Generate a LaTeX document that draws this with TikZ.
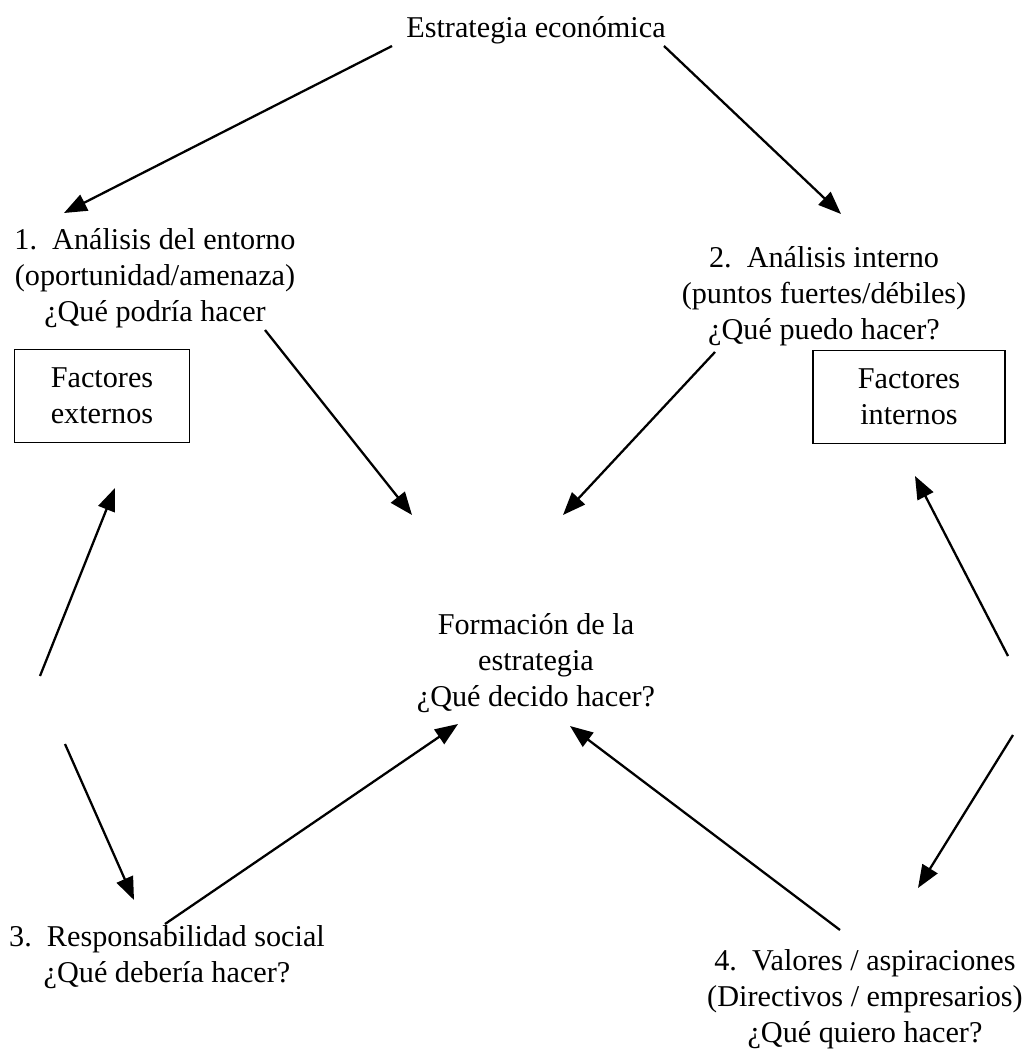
\documentclass[tikz,border=0pt]{standalone}
\usepackage{fontspec}
\setmainfont{Liberation Serif}
\usetikzlibrary{arrows.meta,positioning}

\begin{document}
\begin{tikzpicture}[
    x=0.02cm, y=-0.02cm,
    txt/.style={align=center, font=\fontsize{17.2}{20.5}\selectfont, inner sep=0pt},
    factor/.style={draw, line width=0.6pt, align=center, font=\fontsize{17.2}{20.5}\selectfont},
    arr/.style={-{Triangle[length=13pt,width=10pt]}, line width=1.3pt}
]
\useasboundingbox (0,0) rectangle (1031,1052);

\node[txt] (econ) at (536,30) {Estrategia económica};
\node[txt] (entorno) at (155,278) {1.~\ Análisis del entorno\\(oportunidad/amenaza)\\¿Qué podría hacer};
\node[txt] (interno) at (824,296) {2.~\ Análisis interno\\(puntos fuertes/débiles)\\¿Qué puedo hacer?};
\node[factor, minimum width=3.5cm, minimum height=1.85cm] (fext) at (102,396) {Factores\\externos};
\node[factor, minimum width=3.84cm, minimum height=1.85cm] (fint) at (909,397) {Factores\\internos};
\node[txt] (forma) at (536,663) {Formación de la\\estrategia\\¿Qué decido hacer?};
\node[txt] (social) at (167,957) {3.~\ Responsabilidad social\\¿Qué debería hacer?};
\node[txt] (valores) at (865,999) {4.~\ Valores / aspiraciones\\(Directivos / empresarios)\\¿Qué quiero hacer?};

% arrow ends
\coordinate (a1) at (392,46);   \coordinate (b1) at (64,213);
\coordinate (a2) at (664,46);   \coordinate (b2) at (841,214);
\coordinate (a3) at (265,330);  \coordinate (b3) at (412,515);
\coordinate (a4) at (715,352);  \coordinate (b4) at (563,515);
\coordinate (a5) at (40,676);   \coordinate (b5) at (115,488);
\coordinate (a6) at (65,744);   \coordinate (b6) at (134,900);
\coordinate (a7) at (165,924);  \coordinate (b7) at (458,724);
\coordinate (a8) at (840,930);  \coordinate (b8) at (570,726);
\coordinate (a9) at (1008,656); \coordinate (b9) at (915,476);
\coordinate (a10) at (1013,735); \coordinate (b10) at (918,888);

\foreach \i in {1,...,10}
    \draw[arr] (a\i) -- (b\i);
\end{tikzpicture}
\end{document}
